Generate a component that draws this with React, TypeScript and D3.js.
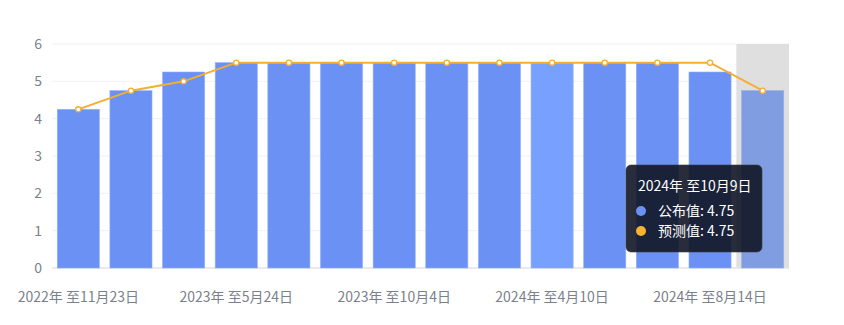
import React from "react";
import * as d3 from "d3";

// Release dates shown on the category axis
const categories = [
  "2022年 至11月23日",
  "2023年 至1月4日",
  "2023年 至2月22日",
  "2023年 至5月24日",
  "2023年 至7月5日",
  "2023年 至8月16日",
  "2023年 至10月4日",
  "2023年 至11月21日",
  "2024年 至1月3日",
  "2024年 至4月10日",
  "2024年 至5月22日",
  "2024年 至7月10日",
  "2024年 至8月14日",
  "2024年 至10月9日",
];

// 公布值 (published) and 预测值 (forecast)
const published = [4.25, 4.75, 5.25, 5.5, 5.5, 5.5, 5.5, 5.5, 5.5, 5.5, 5.5, 5.5, 5.25, 4.75];
const forecast = [4.25, 4.75, 5.0, 5.5, 5.5, 5.5, 5.5, 5.5, 5.5, 5.5, 5.5, 5.5, 5.5, 4.75];

const yTicks = [0, 1, 2, 3, 4, 5, 6];
const labelEvery = 3;
const hoverIndex = 9;
const activeIndex = 13;

const W = 844;
const H = 325;
const M = { left: 52, right: 55, top: 44, bottom: 57 };

const FONT = "'Noto Sans CJK SC', 'Noto Sans', sans-serif";
const BAR = "#6b91f5";
const BAR_HOVER = "#78a0ff";
const BAR_ACTIVE = "#7f9de0";
const LINE = "#f5ae2f";

export default function App() {
  const x = d3
    .scaleBand<number>()
    .domain(d3.range(categories.length))
    .range([M.left, W - M.right])
    .paddingInner(0.2)
    .paddingOuter(0.1);
  const band = d3
    .scaleBand<number>()
    .domain(d3.range(categories.length))
    .range([M.left, W - M.right]);
  const y = d3.scaleLinear().domain([0, 6]).range([H - M.bottom, M.top]);

  const line = d3
    .line<number>()
    .x((_, i) => (band(i) as number) + band.bandwidth() / 2)
    .y((d) => y(d));

  const tipX = 626;
  const tipY = 165;

  const barFill = (i: number) =>
    i === activeIndex ? BAR_ACTIVE : i === hoverIndex ? BAR_HOVER : BAR;

  return (
    <svg
      width={W}
      height={H}
      style={{ position: "fixed", left: 0, top: 0, background: "#fff" }}
      fontFamily={FONT}
    >
      {/* axis pointer shadow on the active category */}
      <rect
        x={band(activeIndex)}
        y={M.top}
        width={band.bandwidth()}
        height={y(0) - M.top}
        fill="#dfdfdf"
      />
      {/* grid lines */}
      {yTicks.map((t) => (
        <line
          key={"g" + t}
          x1={M.left}
          x2={W - M.right}
          y1={y(t)}
          y2={y(t)}
          stroke={t === 0 ? "#e3e3e3" : "rgba(220,220,220,0.4)"}
          strokeWidth={t === 0 ? 1.5 : 1}
        />
      ))}
      {/* y tick labels */}
      {yTicks.map((t) => (
        <text
          key={"t" + t}
          x={M.left - 10}
          y={y(t)}
          dy="0.35em"
          textAnchor="end"
          fontSize={14}
          fill="#7c7f8c"
        >
          {t}
        </text>
      ))}
      {/* bars */}
      {published.map((v, i) => (
        <rect
          key={"b" + i}
          x={x(i)}
          y={y(v)}
          width={x.bandwidth()}
          height={y(0) - y(v)}
          fill={barFill(i)}
          stroke={i === activeIndex ? "#94aee8" : "#8fb0ff"}
          strokeWidth={0.6}
        />
      ))}
      {/* forecast line */}
      <path d={line(forecast) || ""} fill="none" stroke={LINE} strokeWidth={2} />
      {forecast.map((v, i) => (
        <circle
          key={"p" + i}
          cx={(band(i) as number) + band.bandwidth() / 2}
          cy={y(v)}
          r={2.6}
          fill="#fff"
          stroke={LINE}
          strokeWidth={1.3}
        />
      ))}
      {/* category labels */}
      {categories.map((c, i) =>
        i % labelEvery === 0 ? (
          <text
            key={"c" + i}
            x={(band(i) as number) + band.bandwidth() / 2}
            y={297}
            dy="0.35em"
            textAnchor="middle"
            fontSize={14}
            fill="#7c7f8c"
          >
            {c}
          </text>
        ) : null
      )}
      {/* tooltip */}
      <g transform={`translate(${tipX},${tipY})`}>
        <rect
          width={136}
          height={87}
          rx={5}
          fill="rgba(18,22,38,0.9)"
          stroke="rgba(60,60,60,0.6)"
        />
        <text x={12} y={21} dy="0.35em" fontSize={14} fill="#fff">
          {categories[activeIndex]}
        </text>
        <circle cx={15} cy={46} r={5} fill={BAR} />
        <text x={32} y={46} dy="0.35em" fontSize={14} fill="#fff">
          {`公布值: ${published[activeIndex]}`}
        </text>
        <circle cx={15} cy={66} r={5} fill="#f8b22e" />
        <text x={32} y={66} dy="0.35em" fontSize={14} fill="#fff">
          {`预测值: ${forecast[activeIndex]}`}
        </text>
      </g>
    </svg>
  );
}
